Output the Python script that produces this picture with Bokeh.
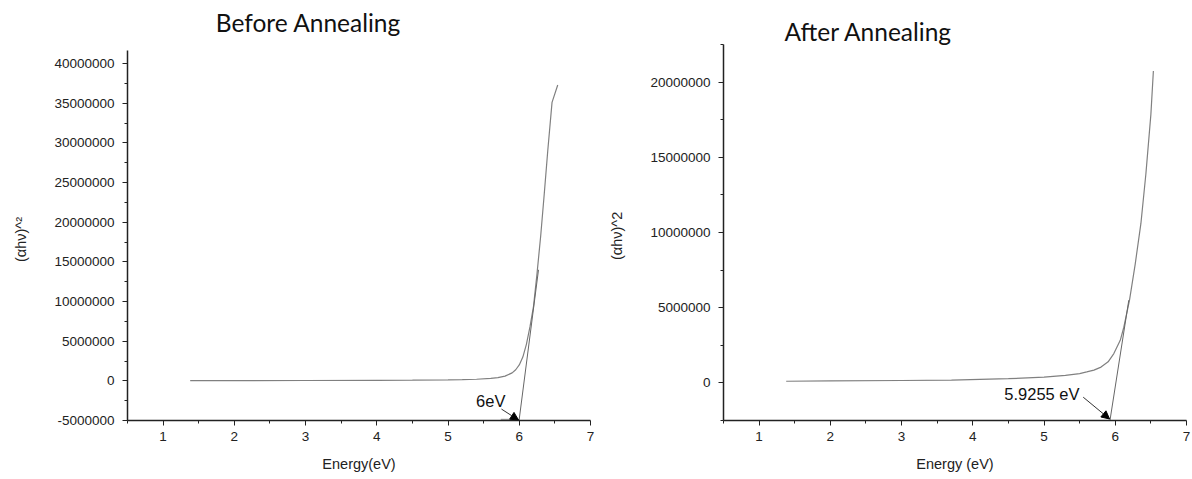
from bokeh.plotting import figure
from bokeh.layouts import row
from bokeh.models import Range1d, FixedTicker, PrintfTickFormatter, Label, Arrow, NormalHead
from bokeh.embed import file_html
from bokeh.resources import INLINE

# ---------------- data ----------------
x_ticks = [1, 2, 3, 4, 5, 6, 7]
x_minor = [0.5, 1.5, 2.5, 3.5, 4.5, 5.5, 6.5]

before_energy = [1.38, 2.0, 3.0, 4.0, 4.5, 5.0, 5.2, 5.4, 5.6, 5.7, 5.8, 5.9, 5.95,
                 6.0, 6.05, 6.1, 6.15, 6.2, 6.25, 6.3, 6.35, 6.4, 6.46, 6.54]
before_ahv2 = [0.02e6, 0.03e6, 0.04e6, 0.06e6, 0.08e6, 0.12e6, 0.15e6, 0.2e6, 0.3e6,
               0.4e6, 0.6e6, 1.0e6, 1.4e6, 2.0e6, 3.0e6, 4.6e6, 6.8e6, 9.4e6, 13.6e6,
               18.2e6, 23.5e6, 29.0e6, 35.1e6, 37.3e6]
before_tangent_x = [5.997, 6.27]
before_tangent_y = [-5.0e6, 14.0e6]
before_base_x = [5.74, 5.99]
before_base_y = [-4.9e6, -4.9e6]
before_y_ticks = [-5e6, 0, 5e6, 10e6, 15e6, 20e6, 25e6, 30e6, 35e6, 40e6]
before_y_minor = [-2.5e6, 2.5e6, 7.5e6, 12.5e6, 17.5e6, 22.5e6, 27.5e6, 32.5e6, 37.5e6]
before_y_axis = (-5.0e6, 41.6e6)
before_gap = "6eV"

after_energy = [1.38, 2.0, 3.0, 3.7, 4.5, 5.0, 5.3, 5.5, 5.6, 5.7, 5.8, 5.9, 5.98,
                6.07, 6.12, 6.2, 6.28, 6.36, 6.43, 6.5, 6.535]
after_ahv2 = [0.11e6, 0.13e6, 0.16e6, 0.18e6, 0.28e6, 0.38e6, 0.5e6, 0.62e6, 0.73e6,
              0.85e6, 1.05e6, 1.4e6, 1.95e6, 2.83e6, 3.7e6, 5.5e6, 7.9e6, 10.6e6,
              13.9e6, 17.85e6, 20.73e6]
after_tangent_x = [5.9255, 6.19]
after_tangent_y = [-2.5e6, 5.5e6]
after_y_ticks = [0, 5e6, 10e6, 15e6, 20e6]
after_y_minor = [-2.5e6, 2.5e6, 7.5e6, 12.5e6, 17.5e6, 22.5e6]
after_y_axis = (-2.5e6, 22.5e6)
after_gap = "5.9255 eV"


def panel(title, ylabel, xlabel, energy, ahv2, tx, ty, yaxis_bounds, ytop,
          yticks, yminor, border_bottom, title_xy, gap_text, gap_xy, arrow_xy,
          base=None):
    p = figure(width=596, height=479, output_backend="svg", toolbar_location=None,
               x_range=Range1d(0.5, 7.0), y_range=Range1d(yaxis_bounds[0], ytop),
               min_border_left=127, min_border_right=6,
               min_border_top=0, min_border_bottom=border_bottom)
    p.outline_line_color = None
    p.grid.visible = False
    p.background_fill_color = "white"
    p.border_fill_color = "white"

    for ax in (p.xaxis[0], p.yaxis[0]):
        ax.axis_line_color = "#222222"
        ax.axis_line_width = 1.5
        ax.major_tick_line_color = "#222222"
        ax.minor_tick_line_color = "#222222"
        ax.major_tick_out = 5
        ax.major_tick_in = 0
        ax.minor_tick_out = 3
        ax.minor_tick_in = 0
        ax.major_label_text_font = "Liberation Sans"
        ax.major_label_text_font_size = "13.5px"
        ax.major_label_text_color = "#222222"
        ax.axis_label_text_font = "Liberation Sans"
        ax.axis_label_text_font_size = "14.5px"
        ax.axis_label_text_font_style = "normal"
        ax.axis_label_text_color = "#222222"

    p.yaxis.bounds = yaxis_bounds
    p.xaxis.ticker = FixedTicker(ticks=x_ticks, minor_ticks=x_minor)
    p.yaxis.ticker = FixedTicker(ticks=yticks, minor_ticks=yminor)
    p.yaxis.formatter = PrintfTickFormatter(format="%d")
    p.xaxis.axis_label = xlabel
    p.yaxis.axis_label = ylabel
    p.xaxis.major_label_standoff = 6
    p.yaxis.major_label_standoff = 8
    p.xaxis.axis_label_standoff = 12
    p.yaxis.axis_label_standoff = 22

    p.line(energy, ahv2, line_color="#808080", line_width=1.2)
    p.line(tx, ty, line_color="#666666", line_width=1)
    if base is not None:
        p.line(base[0], base[1], line_color="#aaaaaa", line_width=2)

    p.add_layout(Arrow(end=NormalHead(size=8, fill_color="black", line_color="black"),
                       x_start=arrow_xy[0], y_start=arrow_xy[1],
                       x_end=arrow_xy[2], y_end=arrow_xy[3],
                       line_color="#333333", line_width=1))
    p.add_layout(Label(x=gap_xy[0], y=gap_xy[1], text=gap_text,
                       text_font="Liberation Sans", text_font_size="16.5px",
                       text_color="#111111", text_align="center",
                       text_baseline="middle"))
    p.add_layout(Label(x=title_xy[0], y=title_xy[1], text=title,
                       text_font="Lato", text_font_size="24.5px",
                       text_color="#111111", text_align="left",
                       text_baseline="alphabetic"))
    return p


# trailing spaces shift the rotated label down so it centres on the drawn axis
p1 = panel("Before Annealing", "(\u03b1h\u03bd)^\u00b2" + "\u2003" * 4, "Energy(eV)",
           before_energy, before_ahv2, before_tangent_x, before_tangent_y,
           before_y_axis, 47.95e6, before_y_ticks, before_y_minor, 59,
           (1.74, 45.18e6), before_gap, (5.60, -2.55e6),
           (5.75, -3.56e6, 5.99, -4.95e6), base=(before_base_x, before_base_y))

p2 = panel("After Annealing", "(\u03b1h\u03bd)^2" + "\u2003" * 3 + "\u2002", "Energy (eV)",
           after_energy, after_ahv2, after_tangent_x, after_tangent_y,
           after_y_axis, 25.42e6, after_y_ticks, after_y_minor, 58,
           (1.356, 23.39e6), after_gap, (4.97, -0.72e6),
           (5.55, -0.95e6, 5.92, -2.4e6))

layout = row(p1, p2, spacing=0)

html = file_html(layout, INLINE)
html = html.replace("<head>", "<head><style>body{margin:0;padding:0;}</style>", 1)
open("out.html", "w").write(html)
